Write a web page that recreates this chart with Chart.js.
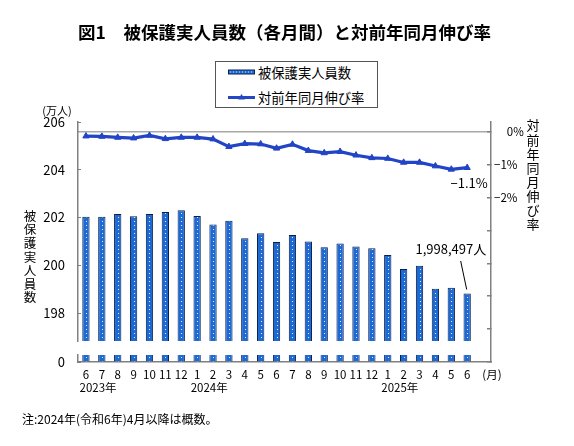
<!DOCTYPE html>
<html>
<head>
<meta charset="utf-8">
<script src="https://cdn.jsdelivr.net/npm/chart.js@4.4.1/dist/chart.umd.min.js"></script>
<style>
html,body{margin:0;padding:0;background:#fff;}
#wrap{position:relative;width:574px;height:446px;overflow:hidden;}
#c{position:absolute;left:0;top:0;}
#legend{position:absolute;left:215px;top:61px;width:161px;height:45px;border:1px solid #555;background:#fff;
 font-family:"Noto Sans CJK JP",sans-serif;font-size:13.3px;color:#000;}
.row{position:absolute;left:12px;display:flex;align-items:center;height:20px;}
.row svg{margin-right:3px;}
</style>
</head>
<body>
<div id="wrap">
<canvas id="c" width="574" height="446"></canvas>
<div id="legend">
 <div class="row" style="top:0px;"><svg width="27" height="8"><rect x="0.5" y="2" width="26" height="4" fill="#1f6fd6" stroke="#0d2350" stroke-width="1"/><line x1="2" y1="4" x2="26" y2="4" stroke="#cfe0ff" stroke-width="1" stroke-dasharray="1,2"/></svg><span>被保護実人員数</span></div>
 <div class="row" style="top:25px;"><svg width="27" height="10"><line x1="0" y1="5.5" x2="27" y2="5.5" stroke="#2447c8" stroke-width="3"/><polygon points="13.5,2 17,7.5 10,7.5" fill="#2447c8"/></svg><span>対前年同月伸び率</span></div>
</div>
</div>
<script>
// ---- data ----
const monthLabels = ['6','7','8','9','10','11','12','1','2','3','4','5','6','7','8','9','10','11','12','1','2','3','4','5','6'];
const yearLabels = ['2023年','2024年','2025年'];
const yearStartIndex = [0, 7, 19];
// 被保護実人員数 (万人)
const recipients = [202.03,202.03,202.15,202.05,202.15,202.23,202.30,202.06,201.71,201.87,201.13,201.34,200.98,201.27,201.00,200.76,200.91,200.79,200.71,200.43,199.84,199.98,199.02,199.06,198.82];
// 対前年同月伸び率 (%)
const growth = [-0.13,-0.14,-0.17,-0.19,-0.11,-0.21,-0.17,-0.17,-0.22,-0.45,-0.36,-0.37,-0.50,-0.38,-0.57,-0.64,-0.60,-0.71,-0.79,-0.81,-0.93,-0.93,-1.04,-1.14,-1.09];
const rightTickText = {'0':'\u2007\u20070%','-1':'\u22121%','-2':'\u22122%'};
const lastBarLabel = '1,998,497人';
const lastGrowthLabel = '\u22121.1%';
const titleText = '図1\u3000被保護実人員数（各月間）と対前年同月伸び率';
const noteText = '注:2024年(令和6年)4月以降は概数。';
const leftTitle = '被保護実人員数';
const rightTitle = '対前年同月伸び率';

const JP = '"Noto Sans CJK JP", sans-serif';
const BLUE = '#1d6ad4';
const LINE = '#2244c6';
const AXIS = '#808080';

// bar pattern (blue with a column of white dots)
const tile = document.createElement('canvas');
tile.width = 16; tile.height = 4;
const tctx = tile.getContext('2d');
tctx.fillStyle = BLUE; tctx.fillRect(0,0,16,4);
tctx.fillStyle = '#e4ecff'; tctx.fillRect(8,1,1,1);
const pattern = document.createElement('canvas').getContext('2d').createPattern(tile,'repeat');

const decor = {
  id: 'decor',
  beforeDatasetsDraw(chart) {
    const xs = chart.scales.x;
    const w = xs.getPixelForValue(1) - xs.getPixelForValue(0);
    const s = w / 16;
    try { pattern.setTransform(new DOMMatrix([s,0,0,1,Math.round(xs.getPixelForValue(0) - 8.5*s), 0])); } catch(e) {}
    chart.ctx.save();
    chart.ctx.imageSmoothingEnabled = false;
  },
  afterDatasetsDraw(chart) {
    chart.ctx.restore();
  },
  afterDraw(chart) {
    const ctx = chart.ctx;
    const xs = chart.scales.x, yU = chart.scales.y, y1 = chart.scales.y1;
    const catW = xs.getPixelForValue(1) - xs.getPixelForValue(0);
    ctx.save();
    ctx.fillStyle = '#000';
    ctx.textBaseline = 'middle';
    // year labels
    ctx.font = '11.5px ' + JP;
    ctx.textAlign = 'left';
    yearLabels.forEach((t, k) => {
      ctx.fillText(t, xs.getPixelForValue(yearStartIndex[k]) - catW/2 + 1.5, 388);
    });
    // (月)
    ctx.textAlign = 'center';
    ctx.fillText('(月)', xs.right + 1, 375);
    // (万人)
    ctx.font = '11px ' + JP;
    ctx.fillText('(万人)', 57, 110.5);
    // vertical axis titles
    ctx.font = '12.5px ' + JP;
    [...leftTitle].forEach((ch, i) => ctx.fillText(ch, 30, 216 + i*13.6));
    ctx.font = '13px ' + JP;
    [...rightTitle].forEach((ch, i) => ctx.fillText(ch, 533, 125.5 + i*14.1));
    // annotations
    const n = recipients.length - 1;
    const lx = xs.getPixelForValue(n);
    ctx.font = '13px ' + JP;
    ctx.fillText(lastGrowthLabel, lx + 2, y1.getPixelForValue(growth[n]) + 15.5);
    ctx.textAlign = 'right';
    ctx.fillText(lastBarLabel, lx + 19, 249.5);
    const by = yU.getPixelForValue(recipients[n]);
    ctx.strokeStyle = '#000'; ctx.lineWidth = 1;
    ctx.beginPath(); ctx.moveTo(lx - 6.5, 261); ctx.lineTo(lx - 0.5, by - 4); ctx.stroke();
    // footnote
    ctx.textAlign = 'left';
    ctx.font = '12px ' + JP;
    ctx.fillText(noteText, 22, 419);
    ctx.restore();
  }
};

const tickFont = {family: JP, size: 13};
new Chart(document.getElementById('c'), {
  data: {
    labels: [...monthLabels, ''],
    datasets: [
      {type:'line', label:'対前年同月伸び率', data: growth, yAxisID:'y1', order:0,
       borderColor: LINE, backgroundColor: LINE, borderWidth: 3.2, tension: 0,
       pointStyle:'triangle', pointRadius: 3.6, pointBorderWidth: 1, pointBackgroundColor: LINE, pointBorderColor: LINE},
      {type:'bar', label:'被保護実人員数', data: recipients, yAxisID:'y', order:1, grouped:false,
       backgroundColor: pattern, borderColor:'#0b1f4a', borderWidth:1, barPercentage:0.46, categoryPercentage:1},
      {type:'bar', label:'low', data: recipients, yAxisID:'yLow', order:2, grouped:false,
       backgroundColor: pattern, borderColor:'#0b1f4a', borderWidth:1, barPercentage:0.46, categoryPercentage:1}
    ]
  },
  options: {
    responsive: false,
    animation: false,
    layout: {padding: 0},
    plugins: {
      legend: {display:false},
      tooltip: {enabled:false},
      title: {display:true, text: titleText, fullSize:false, color:'#000',
        font:{family: JP, size:17.5, weight:'bold'}, padding:{top:21.5, bottom:79.5}}
    },
    scales: {
      x: {type:'category', offset:true,
        grid:{display:false, drawTicks:false},
        border:{display:true, color: AXIS, width:1.5},
        ticks:{autoSkip:false, maxRotation:0, color:'#000', padding:6, font:{family: JP, size:11.5}},
        afterFit(s){ s.height = 84; }},
      y: {type:'linear', position:'left', stack:'L', stackWeight:219, weight:3,
        min:196.83, max:206,
        ticks:{stepSize:2, includeBounds:false, color:'#000', padding:16, font: tickFont},
        grid:{drawOnChartArea:false, tickLength:-3, tickColor: AXIS},
        border:{color: AXIS, width:1.5},
        afterFit(s){ s.width = 78; }},
      yGap: {type:'linear', position:'left', stack:'L', stackWeight:14, weight:2,
        ticks:{display:false}, grid:{display:false}, border:{display:false},
        afterFit(s){ s.width = 78; }},
      yLow: {type:'linear', position:'left', stack:'L', stackWeight:7, weight:1,
        min:0, max:1,
        ticks:{stepSize:1, color:'#000', padding:16, font: tickFont, callback: v => v === 0 ? '0' : ''},
        grid:{drawOnChartArea:false, tickLength:-3, tickColor: ctx => (ctx.tick && ctx.tick.value === 0) ? AXIS : 'rgba(0,0,0,0)'},
        border:{color: AXIS, width:1.5},
        afterFit(s){ s.width = 78; }},
      y1: {type:'linear', position:'right', min:-7, max:0.3,
        ticks:{stepSize:1, includeBounds:false, color:'#000', padding:7, crossAlign:'near',
          font:{family: JP, size:11.5}, callback: v => rightTickText[String(v)] || ''},
        grid:{drawOnChartArea:true, tickLength:-4, tickColor: AXIS,
          color: ctx => (ctx.tick && ctx.tick.value === 0) ? '#a8a8a8' : 'rgba(0,0,0,0)', lineWidth:1.5},
        border:{color: AXIS, width:1.5},
        afterFit(s){ s.width = 83; }}
    }
  },
  plugins: [decor]
});
</script>
</body>
</html>
